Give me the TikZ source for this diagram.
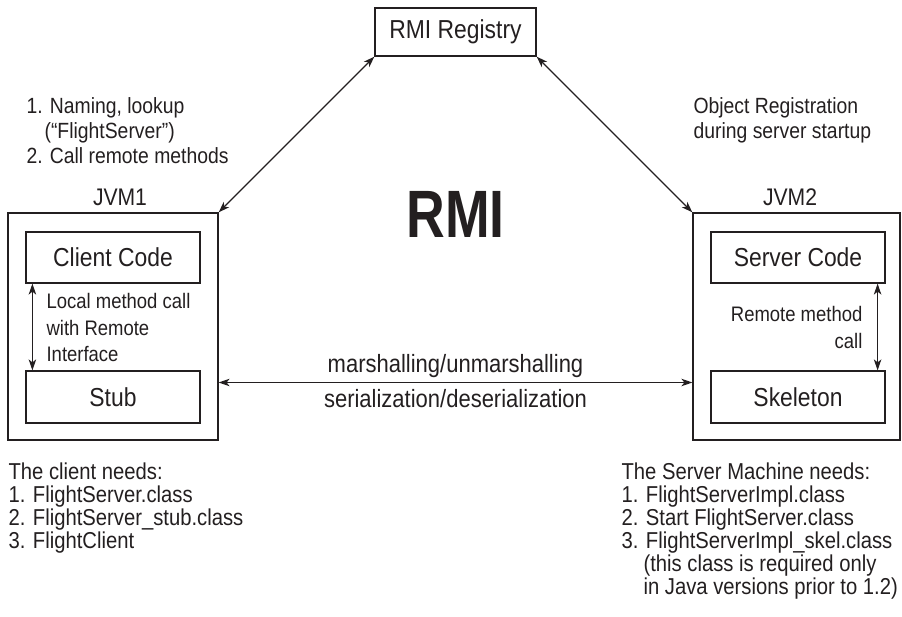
\documentclass[tikz,border=0pt]{standalone}
\usepackage{fontspec}
\setmainfont{Liberation Sans}[FakeStretch=0.88]
\newfontfamily\rmifont{Liberation Sans}[FakeStretch=0.8]
\usetikzlibrary{arrows.meta,positioning}
\definecolor{ink}{HTML}{231F20}

\begin{document}
\begin{tikzpicture}[x=1pt,y=-1pt,line width=1.2pt,color=ink,
    box/.style={draw,inner sep=0pt,minimum width=174pt,font=\fontsize{26}{30}\selectfont},
    note/.style={inner sep=0pt,align=left,anchor=north west},
    link/.style={{Stealth[length=11pt,width=7.5pt,inset=3pt]}-{Stealth[length=11pt,width=7.5pt,inset=3pt]}}]
    \useasboundingbox (0,0) rectangle (902,617);
    % registry and the two virtual machines
    \node[box,minimum width=161pt,minimum height=48pt] (registry) at (455.5,32) {RMI Registry};
    \node[draw,inner sep=0pt,minimum width=210pt,minimum height=227pt] (jvmone) at (113,326.5) {};
    \node[draw,inner sep=0pt,minimum width=207pt,minimum height=227pt] (jvmtwo) at (796.5,326.5) {};
    \node[inner sep=0pt,font=\fontsize{24}{28}\selectfont,above=6pt of jvmone.north,xshift=7pt] (jvmonelabel) {JVM1};
    \node[inner sep=0pt,font=\fontsize{24}{28}\selectfont,above=6pt of jvmtwo.north,xshift=-6.5pt] (jvmtwolabel) {JVM2};
    \node[box,minimum height=51pt] (client) at (113,257.5) {Client Code};
    \node[box,minimum height=52pt] (stub) at (113,397) {Stub};
    \node[box,minimum height=51pt] (server) at (798,257.5) {Server Code};
    \node[box,minimum height=52pt] (skeleton) at (798,397) {Skeleton};
    \node[inner sep=0pt,anchor=base,font=\rmifont\bfseries\fontsize{67}{67}\selectfont] (rmi) at (455.5,238) {RMI};

    \draw[link] (registry.south west) -- (jvmone.north east);
    \draw[link] (registry.south east) -- (jvmtwo.north west);
    \draw[link] ([xshift=7pt]client.south west) -- ([xshift=7pt]stub.north west);
    \draw[link] ([xshift=-8pt]server.south east) -- ([xshift=-8pt]skeleton.north east);
    \coordinate (wire) at (455.5,382.5);
    \draw[link] (jvmone.east |- wire) -- (jvmtwo.west |- wire);
    \node[inner sep=0pt,anchor=base,font=\fontsize{25}{28}\selectfont] (marshal) at (455.5,373) {marshalling/unmarshalling};
    \node[inner sep=0pt,anchor=base,font=\fontsize{25}{28}\selectfont] (serial) at (455.5,407) {serialization/deserialization};

    % texts
    \node[note,font=\fontsize{22}{25}\selectfont] (lookup) at (26,97) {1. Naming, lookup\\\hspace*{18pt}(“FlightServer”)\\2. Call remote methods};
    \node[note,font=\fontsize{22}{25}\selectfont] (objreg) at (693,97) {Object Registration\\during server startup};
    \node[note,font=\fontsize{21}{26.5}\selectfont] (localcall) at (46,293) {Local method call\\with Remote\\Interface};
    \node[note,align=right,anchor=north east,font=\fontsize{21}{26.5}\selectfont] (remotecall) at (863,306) {Remote method\\call};
    \node[note,font=\fontsize{23}{23}\selectfont] (clientneeds) at (8,462) {The client needs:\\1. FlightServer.class\\2. FlightServer\_stub.class\\3. FlightClient};
    \node[note,font=\fontsize{23}{23}\selectfont] (serverneeds) at (621,462) {The Server Machine needs:\\1. FlightServerImpl.class\\2. Start FlightServer.class\\3. FlightServerImpl\_skel.class\\\hspace*{22pt}(this class is required only\\\hspace*{22pt}in Java versions prior to 1.2)};
\end{tikzpicture}
\end{document}
